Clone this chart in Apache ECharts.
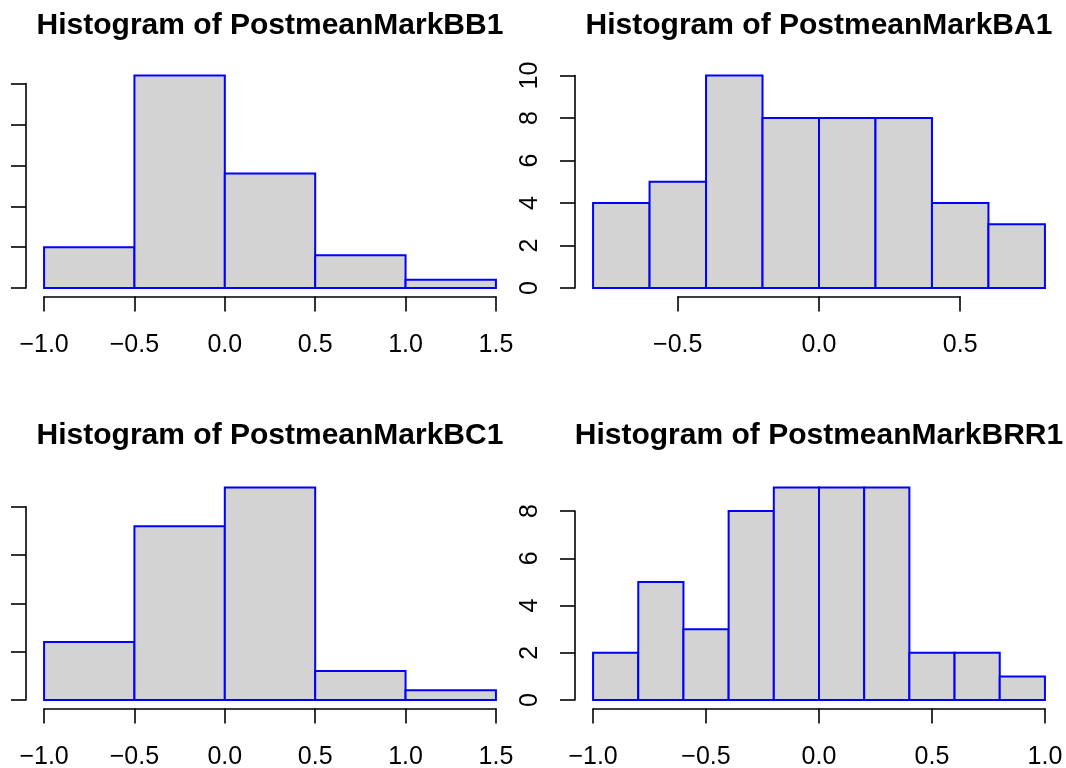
<!DOCTYPE html>
<html>
<head>
<meta charset="utf-8">
<script src="https://cdn.jsdelivr.net/npm/echarts@6/dist/echarts.min.js"></script>
<style>
  html, body { margin: 0; padding: 0; background: #ffffff; }
  #chart { width: 1066px; height: 768px; }
</style>
</head>
<body>
<div id="chart"></div>
<script>
// Histogram breaks and bin counts for each variable
const breaksBB1 = [-1, -0.5, 0, 0.5, 1, 1.5];
const countsBB1 = [5, 26, 14, 4, 1];

const breaksBA1 = [-0.8, -0.6, -0.4, -0.2, 0, 0.2, 0.4, 0.6, 0.8];
const countsBA1 = [4, 5, 10, 8, 8, 8, 4, 3];

const breaksBC1 = [-1, -0.5, 0, 0.5, 1, 1.5];
const countsBC1 = [6, 18, 22, 3, 1];

const breaksBRR1 = [-1, -0.8, -0.6, -0.4, -0.2, 0, 0.2, 0.4, 0.6, 0.8, 1];
const countsBRR1 = [2, 5, 3, 8, 9, 9, 9, 2, 2, 1];

// Axis tick values
const xTicksBB1 = [-1, -0.5, 0, 0.5, 1, 1.5];
const yTicksBB1 = [0, 5, 10, 15, 20, 25];
const xTicksBA1 = [-0.5, 0, 0.5];
const yTicksBA1 = [0, 2, 4, 6, 8, 10];
const xTicksBC1 = [-1, -0.5, 0, 0.5, 1, 1.5];
const yTicksBC1 = [0, 5, 10, 15, 20];
const xTicksBRR1 = [-1, -0.5, 0, 0.5, 1];
const yTicksBRR1 = [0, 2, 4, 6, 8];

const titleBB1 = 'Histogram of PostmeanMarkBB1';
const titleBA1 = 'Histogram of PostmeanMarkBA1';
const titleBC1 = 'Histogram of PostmeanMarkBC1';
const titleBRR1 = 'Histogram of PostmeanMarkBRR1';

const FONT = '"Liberation Sans", Arial, Helvetica, sans-serif';

// Plot regions (pixels) of the 2x2 layout
const panels = [
  { title: titleBB1, breaks: breaksBB1, counts: countsBB1, xTicks: xTicksBB1, yTicks: yTicksBB1, yLabels: false,
    box: { x: 26, y: 67, w: 488, h: 229.5 }, titleTop: 10.5 },
  { title: titleBA1, breaks: breaksBA1, counts: countsBA1, xTicks: xTicksBA1, yTicks: yTicksBA1, yLabels: true,
    box: { x: 575, y: 67, w: 488, h: 229.5 }, titleTop: 10.5 },
  { title: titleBC1, breaks: breaksBC1, counts: countsBC1, xTicks: xTicksBC1, yTicks: yTicksBC1, yLabels: false,
    box: { x: 26, y: 479, w: 488, h: 229.5 }, titleTop: 421 },
  { title: titleBRR1, breaks: breaksBRR1, counts: countsBRR1, xTicks: xTicksBRR1, yTicks: yTicksBRR1, yLabels: true,
    box: { x: 575, y: 479, w: 488, h: 229.5 }, titleTop: 421 }
];

const fmt = v => (v < 0 ? '\u2212' : '') + Math.abs(v).toFixed(1);
const fmtY = v => String(v);

const grids = [], xAxes = [], yAxes = [], series = [], titles = [];

panels.forEach((p, i) => {
  const b = p.box;
  const xLo = p.breaks[0], xHi = p.breaks[p.breaks.length - 1];
  const yHi = Math.max(...p.counts);
  // 4% padding on both ends of each data range
  const xMin = xLo - 0.04 * (xHi - xLo), xMax = xHi + 0.04 * (xHi - xLo);
  const yMin = -0.04 * yHi, yMax = yHi + 0.04 * yHi;
  const px = v => b.x + (v - xMin) / (xMax - xMin) * b.w;
  const py = v => b.y + b.h - (v - yMin) / (yMax - yMin) * b.h;

  // data grid: hidden axes spanning the full plot region
  const gData = grids.length;
  grids.push({ left: b.x, top: b.y, width: b.w, height: b.h, outerBoundsMode: 'none' });
  xAxes.push({ gridIndex: gData, type: 'value', min: xMin, max: xMax, show: false });
  yAxes.push({ gridIndex: gData, type: 'value', min: yMin, max: yMax, show: false });

  // axis grid: spans only the tick range, axes offset out to the plot-region edges
  const x0 = p.xTicks[0], x1 = p.xTicks[p.xTicks.length - 1];
  const y0 = p.yTicks[0], y1 = p.yTicks[p.yTicks.length - 1];
  const gAx = grids.length;
  grids.push({ left: px(x0), top: py(y1), width: px(x1) - px(x0), height: py(y0) - py(y1), outerBoundsMode: 'none' });
  const lineStyle = { color: '#000', width: 1.6 };
  xAxes.push({
    gridIndex: gAx, type: 'value', position: 'bottom',
    min: x0, max: x1, interval: p.xTicks[1] - p.xTicks[0],
    offset: (b.y + b.h) - py(y0),
    axisLine: { show: true, onZero: false, lineStyle },
    axisTick: { show: true, inside: false, length: 15, lineStyle },
    splitLine: { show: false },
    axisLabel: { show: true, margin: 36, fontSize: 25, color: '#000', fontFamily: FONT,
      showMinLabel: true, showMaxLabel: true, formatter: fmt }
  });
  yAxes.push({
    gridIndex: gAx, type: 'value', position: 'left',
    min: y0, max: y1, interval: p.yTicks[1] - p.yTicks[0],
    offset: px(x0) - b.x,
    axisLine: { show: true, onZero: false, lineStyle },
    axisTick: { show: true, inside: false, length: 15, lineStyle },
    splitLine: { show: false },
    axisLabel: { show: p.yLabels, rotate: 90, margin: 32, fontSize: 25, color: '#000', fontFamily: FONT,
      showMinLabel: true, showMaxLabel: true, formatter: fmtY }
  });

  // histogram bars
  series.push({
    type: 'custom',
    xAxisIndex: gData, yAxisIndex: gData,
    clip: false,
    data: p.counts.map((c, k) => [p.breaks[k], p.breaks[k + 1], c]),
    encode: { x: [0, 1], y: 2 },
    renderItem: (params, api) => {
      const tl = api.coord([api.value(0), api.value(2)]);
      const br = api.coord([api.value(1), 0]);
      return {
        type: 'rect',
        shape: { x: tl[0], y: tl[1], width: br[0] - tl[0], height: br[1] - tl[1] },
        style: { fill: '#d3d3d3', stroke: '#0000ff', lineWidth: 2 }
      };
    }
  });

  titles.push({
    text: p.title, left: b.x + b.w / 2, top: p.titleTop, textAlign: 'center', padding: 0,
    textStyle: { fontSize: 30, fontWeight: 'bold', color: '#000', fontFamily: FONT }
  });
});

const chart = echarts.init(document.getElementById('chart'), null, { renderer: 'canvas' });
chart.setOption({
  backgroundColor: '#ffffff',
  animation: false,
  title: titles,
  grid: grids,
  xAxis: xAxes,
  yAxis: yAxes,
  series: series
});
</script>
</body>
</html>
